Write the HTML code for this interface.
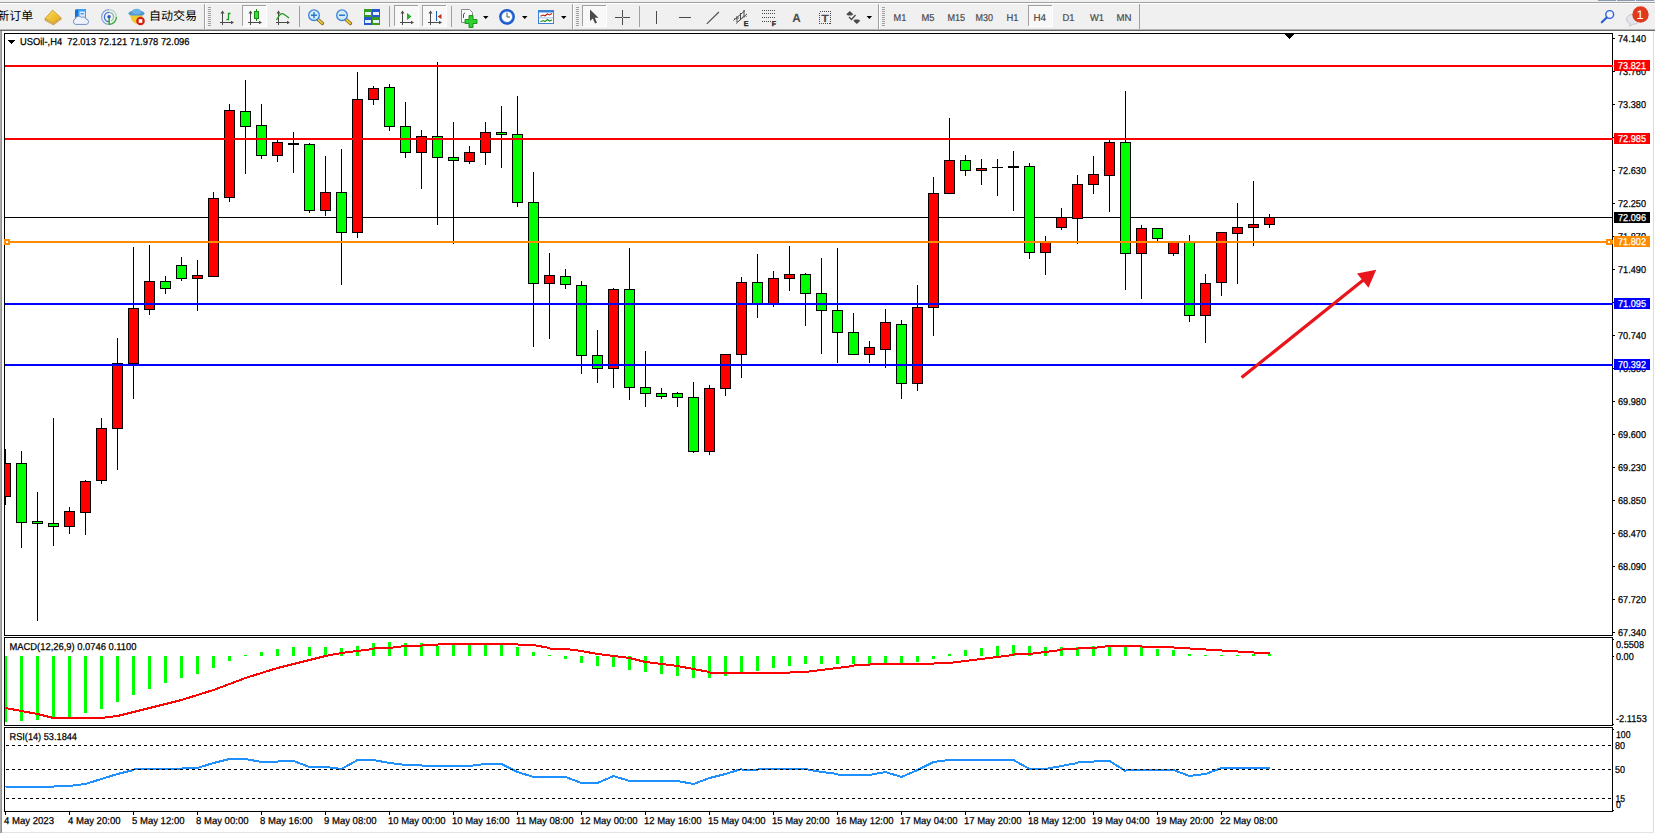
<!DOCTYPE html><html><head><meta charset="utf-8"><title>USOil H4</title>
<style>html,body{margin:0;padding:0;background:#fff}body{width:1655px;height:834px;overflow:hidden}svg{display:block}text{font-family:"Liberation Sans",sans-serif;text-rendering:geometricPrecision}.cjk{font-family:"Liberation Sans","Noto Sans CJK SC",sans-serif}</style></head><body>
<svg width="1655" height="834" viewBox="0 0 1655 834" shape-rendering="crispEdges">
<rect x="0" y="0" width="1655" height="834" fill="#ffffff"/>
<rect x="0" y="0" width="1655" height="31" fill="#f0f0f0"/>
<rect x="0" y="0" width="1655" height="2" fill="#f0f0f0"/>
<rect x="0" y="2" width="1655" height="1" fill="#a0a0a0"/>
<rect x="0" y="3" width="1655" height="1" fill="#ffffff"/>
<rect x="0" y="29" width="1655" height="1" fill="#b4b4b4"/>
<rect x="0" y="30" width="1655" height="1" fill="#696969"/>
<rect x="1598" y="0" width="18" height="1" fill="#8a9bb0"/>
<rect x="1617" y="0" width="18" height="1" fill="#8a9bb0"/>
<rect x="1636" y="0" width="18" height="1" fill="#8a9bb0"/>
<text class="cjk" x="-2.7" y="20" font-size="12" fill="#000">新订单</text>
<text class="cjk" x="149" y="20" font-size="12" fill="#000">自动交易</text>
<rect x="204" y="4" width="1" height="25" fill="#a0a0a0"/><rect x="205" y="4" width="1" height="25" fill="#ffffff"/>
<rect x="208" y="7" width="3" height="1" fill="#a0a0a0"/>
<rect x="208" y="9" width="3" height="1" fill="#a0a0a0"/>
<rect x="208" y="11" width="3" height="1" fill="#a0a0a0"/>
<rect x="208" y="13" width="3" height="1" fill="#a0a0a0"/>
<rect x="208" y="15" width="3" height="1" fill="#a0a0a0"/>
<rect x="208" y="17" width="3" height="1" fill="#a0a0a0"/>
<rect x="208" y="19" width="3" height="1" fill="#a0a0a0"/>
<rect x="208" y="21" width="3" height="1" fill="#a0a0a0"/>
<rect x="208" y="23" width="3" height="1" fill="#a0a0a0"/>
<rect x="208" y="25" width="3" height="1" fill="#a0a0a0"/>
<rect x="299" y="6" width="1" height="21" fill="#a0a0a0"/>
<rect x="389" y="6" width="1" height="21" fill="#a0a0a0"/>
<rect x="451" y="6" width="1" height="21" fill="#a0a0a0"/>
<rect x="572" y="4" width="1" height="25" fill="#a0a0a0"/><rect x="573" y="4" width="1" height="25" fill="#ffffff"/>
<rect x="576" y="7" width="3" height="1" fill="#a0a0a0"/>
<rect x="576" y="9" width="3" height="1" fill="#a0a0a0"/>
<rect x="576" y="11" width="3" height="1" fill="#a0a0a0"/>
<rect x="576" y="13" width="3" height="1" fill="#a0a0a0"/>
<rect x="576" y="15" width="3" height="1" fill="#a0a0a0"/>
<rect x="576" y="17" width="3" height="1" fill="#a0a0a0"/>
<rect x="576" y="19" width="3" height="1" fill="#a0a0a0"/>
<rect x="576" y="21" width="3" height="1" fill="#a0a0a0"/>
<rect x="576" y="23" width="3" height="1" fill="#a0a0a0"/>
<rect x="576" y="25" width="3" height="1" fill="#a0a0a0"/>
<rect x="639" y="6" width="1" height="21" fill="#a0a0a0"/>
<rect x="878" y="4" width="1" height="25" fill="#a0a0a0"/><rect x="879" y="4" width="1" height="25" fill="#ffffff"/>
<rect x="882" y="7" width="3" height="1" fill="#a0a0a0"/>
<rect x="882" y="9" width="3" height="1" fill="#a0a0a0"/>
<rect x="882" y="11" width="3" height="1" fill="#a0a0a0"/>
<rect x="882" y="13" width="3" height="1" fill="#a0a0a0"/>
<rect x="882" y="15" width="3" height="1" fill="#a0a0a0"/>
<rect x="882" y="17" width="3" height="1" fill="#a0a0a0"/>
<rect x="882" y="19" width="3" height="1" fill="#a0a0a0"/>
<rect x="882" y="21" width="3" height="1" fill="#a0a0a0"/>
<rect x="882" y="23" width="3" height="1" fill="#a0a0a0"/>
<rect x="882" y="25" width="3" height="1" fill="#a0a0a0"/>
<rect x="1139" y="4" width="1" height="25" fill="#a0a0a0"/>
<rect x="242" y="5" width="25" height="22" fill="#f8f8f8"/>
<rect x="242" y="5" width="25" height="1" fill="#a0a0a0"/><rect x="242" y="5" width="1" height="22" fill="#a0a0a0"/>
<rect x="242" y="26" width="25" height="1" fill="#ffffff"/><rect x="266" y="5" width="1" height="22" fill="#ffffff"/>
<rect x="394" y="5" width="25" height="22" fill="#f8f8f8"/>
<rect x="394" y="5" width="25" height="1" fill="#a0a0a0"/><rect x="394" y="5" width="1" height="22" fill="#a0a0a0"/>
<rect x="394" y="26" width="25" height="1" fill="#ffffff"/><rect x="418" y="5" width="1" height="22" fill="#ffffff"/>
<rect x="422" y="5" width="25" height="22" fill="#f8f8f8"/>
<rect x="422" y="5" width="25" height="1" fill="#a0a0a0"/><rect x="422" y="5" width="1" height="22" fill="#a0a0a0"/>
<rect x="422" y="26" width="25" height="1" fill="#ffffff"/><rect x="446" y="5" width="1" height="22" fill="#ffffff"/>
<rect x="582" y="5" width="25" height="22" fill="#f8f8f8"/>
<rect x="582" y="5" width="25" height="1" fill="#a0a0a0"/><rect x="582" y="5" width="1" height="22" fill="#a0a0a0"/>
<rect x="582" y="26" width="25" height="1" fill="#ffffff"/><rect x="606" y="5" width="1" height="22" fill="#ffffff"/>
<rect x="1028" y="5" width="25" height="22" fill="#f8f8f8"/>
<rect x="1028" y="5" width="25" height="1" fill="#a0a0a0"/><rect x="1028" y="5" width="1" height="22" fill="#a0a0a0"/>
<rect x="1028" y="26" width="25" height="1" fill="#ffffff"/><rect x="1052" y="5" width="1" height="22" fill="#ffffff"/>
<defs><linearGradient id="gbk" x1="0" y1="0" x2="1" y2="1"><stop offset="0" stop-color="#f9dc55"/><stop offset="1" stop-color="#e6a61c"/></linearGradient></defs>
<g shape-rendering="geometricPrecision"><polygon points="44.8,18.6 53,23.2 61.3,18 61.3,19.6 53.4,25.3 44.8,20.6" fill="#b27a16"/><polyline points="45.3,19.8 53.2,24.2 60.8,19" fill="none" stroke="#f6e6b0" stroke-width="0.8"/><polygon points="44.8,18.6 52.6,10 61.3,18 53,23.2" fill="url(#gbk)" stroke="#c08a18" stroke-width="0.6"/></g>
<g shape-rendering="geometricPrecision"><polygon points="75,9.8 78,9 78,20 75,19.2" fill="#1870d0"/><rect x="78" y="9" width="8" height="11" fill="#3aa0f4"/><rect x="79.5" y="11.5" width="5.5" height="6.5" fill="#d6ecfc"/><rect x="80.5" y="13.3" width="3.5" height="1" fill="#2a80d8"/><path d="M75.5,24.4 a3,3 0 0 1 -0.3,-5.6 a3.6,3.6 0 0 1 6.3,-1.3 a3,3 0 0 1 4.6,1.6 a2.7,2.7 0 0 1 0.4,5.3 z" fill="#eef3fb" stroke="#6f8fc8" stroke-width="1"/></g>
<g shape-rendering="geometricPrecision" fill="none"><path d="M109,9.6 A7.4,7.4 0 0 0 109,24.4" stroke="#86a6dc" stroke-width="1.2"/><path d="M109,9.6 A7.4,7.4 0 0 1 116.4,17" stroke="#b4d6bc" stroke-width="1.2"/><path d="M116.4,17 A7.4,7.4 0 0 1 109,24.4" stroke="#35a535" stroke-width="1.4"/><path d="M109,12.4 A4.6,4.6 0 0 0 109,21.6" stroke="#3f6fd4" stroke-width="1.3"/><path d="M109,12.4 A4.6,4.6 0 0 1 113.6,17" stroke="#7fb0a8" stroke-width="1.3"/><path d="M113.6,17 A4.6,4.6 0 0 1 111,21" stroke="#8fcf8f" stroke-width="1.2"/><line x1="109.2" y1="17" x2="109.2" y2="24.6" stroke="#2ba32b" stroke-width="1.4"/><circle cx="109" cy="16.8" r="1.7" fill="#2a55c8" stroke="none"/></g>
<g shape-rendering="geometricPrecision"><ellipse cx="136.5" cy="13.5" rx="8" ry="3.2" fill="#4f9ad8"/><ellipse cx="136.5" cy="11.5" rx="4.5" ry="2.8" fill="#6fb2e8"/><polygon points="130,15.5 143,15.5 140,21 136,24 132,21" fill="#f0c830"/><circle cx="140.5" cy="21" r="4.3" fill="#d42010"/><rect x="138.7" y="19.2" width="3.6" height="3.6" fill="#fff"/></g>
<g shape-rendering="geometricPrecision" stroke="#4a4a4a" stroke-width="1" fill="#4a4a4a"><line x1="222.5" y1="12" x2="222.5" y2="25"/><line x1="220" y1="22.5" x2="232" y2="22.5"/><polygon points="222.5,10.5 220.5,13.5 224.5,13.5" stroke="none"/><polygon points="234,22.5 231,20.7 231,24.3" stroke="none"/></g>
<path d="M230.5,13.5 h-2 v6 h-2" stroke="#1a9a1a" stroke-width="1.3" fill="none" shape-rendering="geometricPrecision"/>
<g shape-rendering="geometricPrecision" stroke="#4a4a4a" stroke-width="1" fill="#4a4a4a"><line x1="250.5" y1="12" x2="250.5" y2="25"/><line x1="248" y1="22.5" x2="260" y2="22.5"/><polygon points="250.5,10.5 248.5,13.5 252.5,13.5" stroke="none"/><polygon points="262,22.5 259,20.7 259,24.3" stroke="none"/></g>
<rect x="256" y="9" width="1" height="12" fill="#1a8a1a"/><rect x="254" y="11" width="5" height="8" fill="#1a8a1a"/><rect x="255" y="12" width="3" height="6" fill="#35e035"/>
<g shape-rendering="geometricPrecision" stroke="#4a4a4a" stroke-width="1" fill="#4a4a4a"><line x1="278.5" y1="12" x2="278.5" y2="25"/><line x1="276" y1="22.5" x2="288" y2="22.5"/><polygon points="278.5,10.5 276.5,13.5 280.5,13.5" stroke="none"/><polygon points="290,22.5 287,20.7 287,24.3" stroke="none"/></g>
<path d="M276.5,20 q4,-8 7,-6 q3,2 5.5,4" stroke="#1a9a1a" stroke-width="1.2" fill="none" shape-rendering="geometricPrecision"/>
<g shape-rendering="geometricPrecision"><line x1="317.5" y1="19" x2="322.5" y2="23.5" stroke="#8a6a10" stroke-width="3.2" stroke-linecap="round"/><line x1="317.8" y1="19.2" x2="322.3" y2="23.3" stroke="#f0d040" stroke-width="1.6" stroke-linecap="round"/><circle cx="314" cy="15.2" r="5.3" fill="#d4ebfa" stroke="#3a80d8" stroke-width="1.3"/><rect x="311" y="14.5" width="6" height="1.5" fill="#2a78c8"/><rect x="313.25" y="12.2" width="1.5" height="6" fill="#2a78c8"/></g>
<g shape-rendering="geometricPrecision"><line x1="345.5" y1="19" x2="350.5" y2="23.5" stroke="#8a6a10" stroke-width="3.2" stroke-linecap="round"/><line x1="345.8" y1="19.2" x2="350.3" y2="23.3" stroke="#f0d040" stroke-width="1.6" stroke-linecap="round"/><circle cx="342" cy="15.2" r="5.3" fill="#d4ebfa" stroke="#3a80d8" stroke-width="1.3"/><rect x="339" y="14.5" width="6" height="1.5" fill="#2a78c8"/></g>
<rect x="364" y="9" width="8" height="8" fill="#3a9a1c"/><rect x="365" y="12" width="6" height="3" fill="#e8f0ff"/>
<rect x="372" y="9" width="8" height="8" fill="#2458d0"/><rect x="373" y="12" width="6" height="3" fill="#e8f0ff"/>
<rect x="364" y="17" width="8" height="8" fill="#2458d0"/><rect x="365" y="20" width="6" height="3" fill="#e8f0ff"/>
<rect x="372" y="17" width="8" height="8" fill="#3a9a1c"/><rect x="373" y="20" width="6" height="3" fill="#e8f0ff"/>
<g shape-rendering="geometricPrecision" stroke="#4a4a4a" stroke-width="1" fill="#4a4a4a"><line x1="402.5" y1="12" x2="402.5" y2="25"/><line x1="400" y1="22.5" x2="412" y2="22.5"/><polygon points="402.5,10.5 400.5,13.5 404.5,13.5" stroke="none"/><polygon points="414,22.5 411,20.7 411,24.3" stroke="none"/></g>
<polygon shape-rendering="geometricPrecision" points="407,13 407,20 411.5,16.5" fill="#22b022"/>
<g shape-rendering="geometricPrecision" stroke="#4a4a4a" stroke-width="1" fill="#4a4a4a"><line x1="430.5" y1="12" x2="430.5" y2="25"/><line x1="428" y1="22.5" x2="440" y2="22.5"/><polygon points="430.5,10.5 428.5,13.5 432.5,13.5" stroke="none"/><polygon points="442,22.5 439,20.7 439,24.3" stroke="none"/></g>
<rect x="436" y="11" width="1" height="10" fill="#1a60c0"/><polygon shape-rendering="geometricPrecision" points="437.5,16.5 441.5,14 441.5,19" fill="#c83010"/>
<g shape-rendering="geometricPrecision"><path d="M461.5,9.5 h8 l3,3 v10 h-11 z" fill="#fcfcfc" stroke="#8a8a8a" stroke-width="1"/><path d="M465,13 q-1.5,0 -1.5,2 v3" stroke="#555" stroke-width="1" fill="none"/><path d="M469,15.5 h4 v4 h4 v4 h-4 v4 h-4 v-4 h-4 v-4 h4 z" fill="#2fd02f" stroke="#138a13" stroke-width="0.9"/></g>
<polygon shape-rendering="geometricPrecision" points="483,16 488.5,16 485.75,19" fill="#000"/>
<g shape-rendering="geometricPrecision"><circle cx="507" cy="16.8" r="6.6" fill="#fdfdfd" stroke="#1a58cc" stroke-width="2.6"/><circle cx="507" cy="16.8" r="5.6" fill="none" stroke="#5a9cf0" stroke-width="0.7"/><path d="M507,12.5 V17 H510" stroke="#555" stroke-width="1" fill="none"/></g>
<polygon shape-rendering="geometricPrecision" points="522,16 527.5,16 524.75,19" fill="#000"/>
<g shape-rendering="geometricPrecision"><rect x="538.5" y="10.5" width="15" height="13" fill="#fff" stroke="#3a7fd8" stroke-width="1"/><rect x="538" y="10" width="16" height="2.5" fill="#3a7fd8"/><rect x="539" y="17.5" width="14" height="0.8" fill="#7ab0e8"/><polyline points="540.5,16.2 543,15 545,15.8 547.5,14 549.5,15 552,13.6" stroke="#b02010" stroke-width="1.1" fill="none"/><polyline points="540.5,21.8 543,20.5 545,21.5 547.5,19.5 549.5,21 552,20" stroke="#1a901a" stroke-width="1.1" fill="none"/></g>
<polygon shape-rendering="geometricPrecision" points="561,16 566.5,16 563.75,19" fill="#000"/>
<polygon shape-rendering="geometricPrecision" points="590,9.5 590,21 592.8,18.6 595,23.6 597,22.7 594.8,17.8 598.5,17.8" fill="#4a4a4a"/>
<rect x="622" y="10" width="1" height="15" fill="#4a4a4a"/><rect x="615" y="17" width="15" height="1" fill="#4a4a4a"/><rect x="622" y="17" width="1" height="1" fill="#d0d0d0"/>
<rect x="656" y="11" width="1" height="13" fill="#4a4a4a"/>
<rect x="679" y="17" width="12" height="1" fill="#4a4a4a"/>
<line shape-rendering="geometricPrecision" x1="706.8" y1="23.9" x2="718.9" y2="12" stroke="#4a4a4a" stroke-width="1.1"/>
<g shape-rendering="geometricPrecision" stroke="#4a4a4a" stroke-width="1" fill="none"><line x1="733.5" y1="20.5" x2="745" y2="10.5"/><line x1="736" y1="23.5" x2="747" y2="14"/><line x1="734" y1="19" x2="746.5" y2="16.5" stroke-dasharray="1 1"/><line x1="737" y1="16" x2="737" y2="22"/><line x1="740.5" y1="13" x2="740.5" y2="20"/><line x1="744" y1="10" x2="744" y2="17"/></g>
<text x="743.8" y="25.6" font-size="7" font-weight="bold" fill="#222" stroke="#222" stroke-width="0.3">E</text>
<line x1="762" y1="10.5" x2="775" y2="10.5" stroke="#4a4a4a" stroke-width="1" stroke-dasharray="1 1"/>
<line x1="762" y1="13.5" x2="775" y2="13.5" stroke="#4a4a4a" stroke-width="1" stroke-dasharray="1 1"/>
<line x1="762" y1="17.5" x2="775" y2="17.5" stroke="#4a4a4a" stroke-width="1" stroke-dasharray="1 1"/>
<line x1="762" y1="21.5" x2="771" y2="21.5" stroke="#4a4a4a" stroke-width="1" stroke-dasharray="1 1"/>
<text x="771.8" y="25.6" font-size="7" font-weight="bold" fill="#222" stroke="#222" stroke-width="0.3">F</text>
<text x="792.3" y="21.6" font-size="12" font-weight="bold" fill="#4a4a4a" textLength="8.5" lengthAdjust="spacingAndGlyphs">A</text>
<rect x="819.5" y="11.5" width="11" height="12" fill="none" stroke="#4a4a4a" stroke-width="1" stroke-dasharray="1 1"/>
<text x="821.2" y="21.6" font-size="10.5" font-weight="bold" fill="#4a4a4a" textLength="7.6" lengthAdjust="spacingAndGlyphs">T</text>
<g shape-rendering="geometricPrecision" fill="#4a4a4a"><polygon points="849.8,11 853.3,14.2 851.5,15.6 848,15.6 846.3,14.2"/><polygon points="856.8,24 860.3,20.8 858.5,19.4 855,19.4 853.3,20.8"/><polyline points="849,17 851.5,19.5 855.5,15" fill="none" stroke="#4a4a4a" stroke-width="1.4"/></g>
<polygon shape-rendering="geometricPrecision" points="866.6,16 872.1,16 869.35,19" fill="#000"/>
<text x="893.6" y="21" font-size="10" fill="#484848" stroke="#484848" stroke-width="0.2" textLength="12.8" lengthAdjust="spacingAndGlyphs">M1</text>
<text x="921.4" y="21" font-size="10" fill="#484848" stroke="#484848" stroke-width="0.2" textLength="13" lengthAdjust="spacingAndGlyphs">M5</text>
<text x="947.4" y="21" font-size="10" fill="#484848" stroke="#484848" stroke-width="0.2" textLength="17.6" lengthAdjust="spacingAndGlyphs">M15</text>
<text x="975.6" y="21" font-size="10" fill="#484848" stroke="#484848" stroke-width="0.2" textLength="17.4" lengthAdjust="spacingAndGlyphs">M30</text>
<text x="1006.4" y="21" font-size="10" fill="#484848" stroke="#484848" stroke-width="0.2" textLength="12" lengthAdjust="spacingAndGlyphs">H1</text>
<text x="1033.4" y="21" font-size="10" fill="#484848" stroke="#484848" stroke-width="0.2" textLength="12.6" lengthAdjust="spacingAndGlyphs">H4</text>
<text x="1062.4" y="21" font-size="10" fill="#484848" stroke="#484848" stroke-width="0.2" textLength="12" lengthAdjust="spacingAndGlyphs">D1</text>
<text x="1090" y="21" font-size="10" fill="#484848" stroke="#484848" stroke-width="0.2" textLength="14" lengthAdjust="spacingAndGlyphs">W1</text>
<text x="1116.4" y="21" font-size="10" fill="#484848" stroke="#484848" stroke-width="0.2" textLength="15" lengthAdjust="spacingAndGlyphs">MN</text>
<g shape-rendering="geometricPrecision"><circle cx="1609.7" cy="14.5" r="3.9" fill="#f2f4fa" stroke="#2a5fd8" stroke-width="1.4"/><line x1="1606.8" y1="17.5" x2="1601.8" y2="22.3" stroke="#2a5fd8" stroke-width="2.2" stroke-linecap="round"/></g>
<g shape-rendering="geometricPrecision"><path d="M1626.5,19 a6.5,5 0 1 1 6,5.3 l-3,2 l0.6,-2.6 a6,5 0 0 1 -3.6,-4.7 z" fill="#e4e6ec" stroke="#b8bcc6" stroke-width="0.8"/><circle cx="1640.5" cy="14.5" r="8.2" fill="#e03a1e"/></g>
<text x="1636.6" y="19" font-size="12.5" fill="#fff" textLength="7" lengthAdjust="spacingAndGlyphs">1</text>
<rect x="0" y="31" width="2" height="802" fill="#909090"/>
<rect x="0" y="31" width="1" height="802" fill="#ababab"/>
<rect x="1653" y="31" width="1" height="802" fill="#dcdcdc"/>
<rect x="2" y="832" width="1652" height="1" fill="#e4e4e4"/>
<rect x="4" y="33" width="1609" height="1" fill="#000"/>
<rect x="4" y="33" width="1" height="779" fill="#000"/>
<rect x="1612" y="33" width="1" height="779" fill="#000"/>
<rect x="4" y="635" width="1609" height="1" fill="#000"/>
<rect x="4" y="637" width="1609" height="1" fill="#000"/>
<rect x="4" y="725" width="1609" height="1" fill="#000"/>
<rect x="4" y="727" width="1609" height="1" fill="#000"/>
<rect x="4" y="811" width="1609" height="1" fill="#000"/>
<rect x="1612" y="636" width="1" height="1" fill="#fff"/><rect x="1612" y="726" width="1" height="1" fill="#fff"/><rect x="4" y="636" width="1" height="1" fill="#fff"/><rect x="4" y="726" width="1" height="1" fill="#fff"/>
<defs><clipPath id="cm"><rect x="5" y="34" width="1607" height="601"/></clipPath><clipPath id="cd"><rect x="5" y="638" width="1607" height="87"/></clipPath></defs>
<g clip-path="url(#cm)">
<rect x="5" y="217" width="1607" height="1" fill="#000"/>
<rect x="5" y="449" width="1" height="56" fill="#000"/>
<rect x="0" y="463" width="11" height="34" fill="#000"/>
<rect x="1" y="464" width="9" height="32" fill="#ff0000"/>
<rect x="21" y="451" width="1" height="97" fill="#000"/>
<rect x="16" y="463" width="11" height="60" fill="#000"/>
<rect x="17" y="464" width="9" height="58" fill="#00ff00"/>
<rect x="37" y="492" width="1" height="129" fill="#000"/>
<rect x="32" y="521" width="11" height="3" fill="#000"/>
<rect x="33" y="522" width="9" height="1" fill="#00ff00"/>
<rect x="53" y="418" width="1" height="128" fill="#000"/>
<rect x="48" y="523" width="11" height="4" fill="#000"/>
<rect x="49" y="524" width="9" height="2" fill="#00ff00"/>
<rect x="69" y="507" width="1" height="27" fill="#000"/>
<rect x="64" y="511" width="11" height="16" fill="#000"/>
<rect x="65" y="512" width="9" height="14" fill="#ff0000"/>
<rect x="85" y="480" width="1" height="55" fill="#000"/>
<rect x="80" y="481" width="11" height="32" fill="#000"/>
<rect x="81" y="482" width="9" height="30" fill="#ff0000"/>
<rect x="101" y="418" width="1" height="66" fill="#000"/>
<rect x="96" y="428" width="11" height="53" fill="#000"/>
<rect x="97" y="429" width="9" height="51" fill="#ff0000"/>
<rect x="117" y="338" width="1" height="132" fill="#000"/>
<rect x="112" y="363" width="11" height="66" fill="#000"/>
<rect x="113" y="364" width="9" height="64" fill="#ff0000"/>
<rect x="133" y="247" width="1" height="152" fill="#000"/>
<rect x="128" y="308" width="11" height="56" fill="#000"/>
<rect x="129" y="309" width="9" height="54" fill="#ff0000"/>
<rect x="149" y="245" width="1" height="70" fill="#000"/>
<rect x="144" y="281" width="11" height="29" fill="#000"/>
<rect x="145" y="282" width="9" height="27" fill="#ff0000"/>
<rect x="165" y="276" width="1" height="18" fill="#000"/>
<rect x="160" y="281" width="11" height="8" fill="#000"/>
<rect x="161" y="282" width="9" height="6" fill="#00ff00"/>
<rect x="181" y="257" width="1" height="24" fill="#000"/>
<rect x="176" y="265" width="11" height="14" fill="#000"/>
<rect x="177" y="266" width="9" height="12" fill="#00ff00"/>
<rect x="197" y="260" width="1" height="51" fill="#000"/>
<rect x="192" y="275" width="11" height="4" fill="#000"/>
<rect x="193" y="276" width="9" height="2" fill="#ff0000"/>
<rect x="213" y="192" width="1" height="85" fill="#000"/>
<rect x="208" y="198" width="11" height="79" fill="#000"/>
<rect x="209" y="199" width="9" height="77" fill="#ff0000"/>
<rect x="229" y="104" width="1" height="98" fill="#000"/>
<rect x="224" y="110" width="11" height="88" fill="#000"/>
<rect x="225" y="111" width="9" height="86" fill="#ff0000"/>
<rect x="245" y="80" width="1" height="94" fill="#000"/>
<rect x="240" y="111" width="11" height="16" fill="#000"/>
<rect x="241" y="112" width="9" height="14" fill="#00ff00"/>
<rect x="261" y="104" width="1" height="55" fill="#000"/>
<rect x="256" y="125" width="11" height="31" fill="#000"/>
<rect x="257" y="126" width="9" height="29" fill="#00ff00"/>
<rect x="277" y="140" width="1" height="22" fill="#000"/>
<rect x="272" y="142" width="11" height="14" fill="#000"/>
<rect x="273" y="143" width="9" height="12" fill="#ff0000"/>
<rect x="293" y="132" width="1" height="41" fill="#000"/>
<rect x="288" y="143" width="11" height="2" fill="#000"/>
<rect x="309" y="143" width="1" height="70" fill="#000"/>
<rect x="304" y="144" width="11" height="67" fill="#000"/>
<rect x="305" y="145" width="9" height="65" fill="#00ff00"/>
<rect x="325" y="156" width="1" height="60" fill="#000"/>
<rect x="320" y="192" width="11" height="19" fill="#000"/>
<rect x="321" y="193" width="9" height="17" fill="#ff0000"/>
<rect x="341" y="149" width="1" height="136" fill="#000"/>
<rect x="336" y="192" width="11" height="41" fill="#000"/>
<rect x="337" y="193" width="9" height="39" fill="#00ff00"/>
<rect x="357" y="72" width="1" height="166" fill="#000"/>
<rect x="352" y="99" width="11" height="134" fill="#000"/>
<rect x="353" y="100" width="9" height="132" fill="#ff0000"/>
<rect x="373" y="86" width="1" height="19" fill="#000"/>
<rect x="368" y="88" width="11" height="12" fill="#000"/>
<rect x="369" y="89" width="9" height="10" fill="#ff0000"/>
<rect x="389" y="84" width="1" height="47" fill="#000"/>
<rect x="384" y="87" width="11" height="40" fill="#000"/>
<rect x="385" y="88" width="9" height="38" fill="#00ff00"/>
<rect x="405" y="102" width="1" height="56" fill="#000"/>
<rect x="400" y="126" width="11" height="27" fill="#000"/>
<rect x="401" y="127" width="9" height="25" fill="#00ff00"/>
<rect x="421" y="130" width="1" height="59" fill="#000"/>
<rect x="416" y="136" width="11" height="17" fill="#000"/>
<rect x="417" y="137" width="9" height="15" fill="#ff0000"/>
<rect x="437" y="62" width="1" height="163" fill="#000"/>
<rect x="432" y="136" width="11" height="22" fill="#000"/>
<rect x="433" y="137" width="9" height="20" fill="#00ff00"/>
<rect x="453" y="122" width="1" height="122" fill="#000"/>
<rect x="448" y="157" width="11" height="4" fill="#000"/>
<rect x="449" y="158" width="9" height="2" fill="#00ff00"/>
<rect x="469" y="146" width="1" height="18" fill="#000"/>
<rect x="464" y="152" width="11" height="10" fill="#000"/>
<rect x="465" y="153" width="9" height="8" fill="#ff0000"/>
<rect x="485" y="122" width="1" height="43" fill="#000"/>
<rect x="480" y="132" width="11" height="21" fill="#000"/>
<rect x="481" y="133" width="9" height="19" fill="#ff0000"/>
<rect x="501" y="106" width="1" height="62" fill="#000"/>
<rect x="496" y="132" width="11" height="3" fill="#000"/>
<rect x="497" y="133" width="9" height="1" fill="#00ff00"/>
<rect x="517" y="96" width="1" height="111" fill="#000"/>
<rect x="512" y="134" width="11" height="69" fill="#000"/>
<rect x="513" y="135" width="9" height="67" fill="#00ff00"/>
<rect x="533" y="172" width="1" height="175" fill="#000"/>
<rect x="528" y="202" width="11" height="82" fill="#000"/>
<rect x="529" y="203" width="9" height="80" fill="#00ff00"/>
<rect x="549" y="253" width="1" height="86" fill="#000"/>
<rect x="544" y="275" width="11" height="9" fill="#000"/>
<rect x="545" y="276" width="9" height="7" fill="#ff0000"/>
<rect x="565" y="269" width="1" height="20" fill="#000"/>
<rect x="560" y="276" width="11" height="9" fill="#000"/>
<rect x="561" y="277" width="9" height="7" fill="#00ff00"/>
<rect x="581" y="281" width="1" height="93" fill="#000"/>
<rect x="576" y="285" width="11" height="71" fill="#000"/>
<rect x="577" y="286" width="9" height="69" fill="#00ff00"/>
<rect x="597" y="330" width="1" height="53" fill="#000"/>
<rect x="592" y="355" width="11" height="14" fill="#000"/>
<rect x="593" y="356" width="9" height="12" fill="#00ff00"/>
<rect x="613" y="288" width="1" height="100" fill="#000"/>
<rect x="608" y="289" width="11" height="80" fill="#000"/>
<rect x="609" y="290" width="9" height="78" fill="#ff0000"/>
<rect x="629" y="248" width="1" height="152" fill="#000"/>
<rect x="624" y="289" width="11" height="99" fill="#000"/>
<rect x="625" y="290" width="9" height="97" fill="#00ff00"/>
<rect x="645" y="351" width="1" height="56" fill="#000"/>
<rect x="640" y="387" width="11" height="7" fill="#000"/>
<rect x="641" y="388" width="9" height="5" fill="#00ff00"/>
<rect x="661" y="388" width="1" height="11" fill="#000"/>
<rect x="656" y="393" width="11" height="4" fill="#000"/>
<rect x="657" y="394" width="9" height="2" fill="#00ff00"/>
<rect x="677" y="392" width="1" height="15" fill="#000"/>
<rect x="672" y="393" width="11" height="5" fill="#000"/>
<rect x="673" y="394" width="9" height="3" fill="#00ff00"/>
<rect x="693" y="382" width="1" height="71" fill="#000"/>
<rect x="688" y="397" width="11" height="55" fill="#000"/>
<rect x="689" y="398" width="9" height="53" fill="#00ff00"/>
<rect x="709" y="385" width="1" height="70" fill="#000"/>
<rect x="704" y="388" width="11" height="64" fill="#000"/>
<rect x="705" y="389" width="9" height="62" fill="#ff0000"/>
<rect x="725" y="354" width="1" height="42" fill="#000"/>
<rect x="720" y="354" width="11" height="35" fill="#000"/>
<rect x="721" y="355" width="9" height="33" fill="#ff0000"/>
<rect x="741" y="277" width="1" height="101" fill="#000"/>
<rect x="736" y="282" width="11" height="73" fill="#000"/>
<rect x="737" y="283" width="9" height="71" fill="#ff0000"/>
<rect x="757" y="254" width="1" height="64" fill="#000"/>
<rect x="752" y="282" width="11" height="22" fill="#000"/>
<rect x="753" y="283" width="9" height="20" fill="#00ff00"/>
<rect x="773" y="271" width="1" height="36" fill="#000"/>
<rect x="768" y="278" width="11" height="26" fill="#000"/>
<rect x="769" y="279" width="9" height="24" fill="#ff0000"/>
<rect x="789" y="246" width="1" height="45" fill="#000"/>
<rect x="784" y="274" width="11" height="5" fill="#000"/>
<rect x="785" y="275" width="9" height="3" fill="#ff0000"/>
<rect x="805" y="273" width="1" height="53" fill="#000"/>
<rect x="800" y="274" width="11" height="20" fill="#000"/>
<rect x="801" y="275" width="9" height="18" fill="#00ff00"/>
<rect x="821" y="258" width="1" height="96" fill="#000"/>
<rect x="816" y="293" width="11" height="18" fill="#000"/>
<rect x="817" y="294" width="9" height="16" fill="#00ff00"/>
<rect x="837" y="248" width="1" height="115" fill="#000"/>
<rect x="832" y="310" width="11" height="23" fill="#000"/>
<rect x="833" y="311" width="9" height="21" fill="#00ff00"/>
<rect x="853" y="313" width="1" height="42" fill="#000"/>
<rect x="848" y="332" width="11" height="23" fill="#000"/>
<rect x="849" y="333" width="9" height="21" fill="#00ff00"/>
<rect x="869" y="341" width="1" height="22" fill="#000"/>
<rect x="864" y="347" width="11" height="8" fill="#000"/>
<rect x="865" y="348" width="9" height="6" fill="#ff0000"/>
<rect x="885" y="309" width="1" height="59" fill="#000"/>
<rect x="880" y="322" width="11" height="28" fill="#000"/>
<rect x="881" y="323" width="9" height="26" fill="#ff0000"/>
<rect x="901" y="320" width="1" height="79" fill="#000"/>
<rect x="896" y="324" width="11" height="60" fill="#000"/>
<rect x="897" y="325" width="9" height="58" fill="#00ff00"/>
<rect x="917" y="285" width="1" height="106" fill="#000"/>
<rect x="912" y="307" width="11" height="77" fill="#000"/>
<rect x="913" y="308" width="9" height="75" fill="#ff0000"/>
<rect x="933" y="177" width="1" height="159" fill="#000"/>
<rect x="928" y="193" width="11" height="115" fill="#000"/>
<rect x="929" y="194" width="9" height="113" fill="#ff0000"/>
<rect x="949" y="118" width="1" height="76" fill="#000"/>
<rect x="944" y="160" width="11" height="34" fill="#000"/>
<rect x="945" y="161" width="9" height="32" fill="#ff0000"/>
<rect x="965" y="155" width="1" height="21" fill="#000"/>
<rect x="960" y="160" width="11" height="11" fill="#000"/>
<rect x="961" y="161" width="9" height="9" fill="#00ff00"/>
<rect x="981" y="159" width="1" height="26" fill="#000"/>
<rect x="976" y="168" width="11" height="3" fill="#000"/>
<rect x="977" y="169" width="9" height="1" fill="#ff0000"/>
<rect x="997" y="159" width="1" height="37" fill="#000"/>
<rect x="992" y="167" width="11" height="1" fill="#000"/>
<rect x="1013" y="151" width="1" height="60" fill="#000"/>
<rect x="1008" y="166" width="11" height="2" fill="#000"/>
<rect x="1029" y="163" width="1" height="96" fill="#000"/>
<rect x="1024" y="166" width="11" height="87" fill="#000"/>
<rect x="1025" y="167" width="9" height="85" fill="#00ff00"/>
<rect x="1045" y="236" width="1" height="39" fill="#000"/>
<rect x="1040" y="242" width="11" height="11" fill="#000"/>
<rect x="1041" y="243" width="9" height="9" fill="#ff0000"/>
<rect x="1061" y="208" width="1" height="22" fill="#000"/>
<rect x="1056" y="217" width="11" height="11" fill="#000"/>
<rect x="1057" y="218" width="9" height="9" fill="#ff0000"/>
<rect x="1077" y="175" width="1" height="69" fill="#000"/>
<rect x="1072" y="184" width="11" height="35" fill="#000"/>
<rect x="1073" y="185" width="9" height="33" fill="#ff0000"/>
<rect x="1093" y="156" width="1" height="38" fill="#000"/>
<rect x="1088" y="174" width="11" height="11" fill="#000"/>
<rect x="1089" y="175" width="9" height="9" fill="#ff0000"/>
<rect x="1109" y="140" width="1" height="72" fill="#000"/>
<rect x="1104" y="142" width="11" height="34" fill="#000"/>
<rect x="1105" y="143" width="9" height="32" fill="#ff0000"/>
<rect x="1125" y="91" width="1" height="199" fill="#000"/>
<rect x="1120" y="142" width="11" height="112" fill="#000"/>
<rect x="1121" y="143" width="9" height="110" fill="#00ff00"/>
<rect x="1141" y="225" width="1" height="74" fill="#000"/>
<rect x="1136" y="228" width="11" height="26" fill="#000"/>
<rect x="1137" y="229" width="9" height="24" fill="#ff0000"/>
<rect x="1157" y="228" width="1" height="13" fill="#000"/>
<rect x="1152" y="228" width="11" height="11" fill="#000"/>
<rect x="1153" y="229" width="9" height="9" fill="#00ff00"/>
<rect x="1173" y="242" width="1" height="14" fill="#000"/>
<rect x="1168" y="242" width="11" height="12" fill="#000"/>
<rect x="1169" y="243" width="9" height="10" fill="#ff0000"/>
<rect x="1189" y="235" width="1" height="87" fill="#000"/>
<rect x="1184" y="242" width="11" height="74" fill="#000"/>
<rect x="1185" y="243" width="9" height="72" fill="#00ff00"/>
<rect x="1205" y="274" width="1" height="69" fill="#000"/>
<rect x="1200" y="283" width="11" height="33" fill="#000"/>
<rect x="1201" y="284" width="9" height="31" fill="#ff0000"/>
<rect x="1221" y="232" width="1" height="64" fill="#000"/>
<rect x="1216" y="232" width="11" height="51" fill="#000"/>
<rect x="1217" y="233" width="9" height="49" fill="#ff0000"/>
<rect x="1237" y="203" width="1" height="81" fill="#000"/>
<rect x="1232" y="227" width="11" height="7" fill="#000"/>
<rect x="1233" y="228" width="9" height="5" fill="#ff0000"/>
<rect x="1253" y="181" width="1" height="65" fill="#000"/>
<rect x="1248" y="224" width="11" height="4" fill="#000"/>
<rect x="1249" y="225" width="9" height="2" fill="#ff0000"/>
<rect x="1269" y="214" width="1" height="14" fill="#000"/>
<rect x="1264" y="217" width="11" height="8" fill="#000"/>
<rect x="1265" y="218" width="9" height="6" fill="#ff0000"/>
</g>
<rect x="5" y="65" width="1608" height="2" fill="#ff0000"/>
<rect x="5" y="138" width="1608" height="2" fill="#ff0000"/>
<rect x="5" y="241" width="1608" height="2" fill="#ff8c00"/>
<rect x="5" y="303" width="1608" height="2" fill="#0000ff"/>
<rect x="5" y="364" width="1608" height="2" fill="#0000ff"/>
<rect x="4" y="239" width="6" height="6" fill="#ff8c00"/><rect x="6" y="241" width="2" height="2" fill="#fff"/>
<rect x="1606" y="239" width="6" height="6" fill="#ff8c00"/><rect x="1608" y="241" width="2" height="2" fill="#fff"/><rect x="1612" y="240" width="1" height="4" fill="#ff8c00"/>
<g shape-rendering="geometricPrecision"><line x1="1241.6" y1="377.6" x2="1364" y2="279.5" stroke="#e8151d" stroke-width="3.2"/><polygon points="1376.2,269.8 1357,273.6 1368.5,287.8" fill="#e8151d"/></g>
<rect x="1285" y="34" width="9" height="1" fill="#000"/>
<rect x="1286" y="35" width="7" height="1" fill="#000"/>
<rect x="1287" y="36" width="5" height="1" fill="#000"/>
<rect x="1288" y="37" width="3" height="1" fill="#000"/>
<rect x="1289" y="38" width="1" height="1" fill="#000"/>
<rect x="8" y="40" width="7" height="1" fill="#000"/>
<rect x="9" y="41" width="5" height="1" fill="#000"/>
<rect x="10" y="42" width="3" height="1" fill="#000"/>
<rect x="11" y="43" width="1" height="1" fill="#000"/>
<text x="20" y="45" font-size="10" fill="#000" textLength="169.5" lengthAdjust="spacingAndGlyphs" stroke="#000" stroke-width="0.25" >USOil-,H4 &#160;72.013 72.121 71.978 72.096</text>
<rect x="1613" y="38" width="2" height="1" fill="#000"/>
<text x="1618" y="42" font-size="10" fill="#000" textLength="28" lengthAdjust="spacingAndGlyphs" stroke="#000" stroke-width="0.25" >74.140</text>
<rect x="1613" y="71" width="2" height="1" fill="#000"/>
<text x="1618" y="75" font-size="10" fill="#000" textLength="28" lengthAdjust="spacingAndGlyphs" stroke="#000" stroke-width="0.25" >73.760</text>
<rect x="1613" y="104" width="2" height="1" fill="#000"/>
<text x="1618" y="108" font-size="10" fill="#000" textLength="28" lengthAdjust="spacingAndGlyphs" stroke="#000" stroke-width="0.25" >73.380</text>
<rect x="1613" y="137" width="2" height="1" fill="#000"/>
<text x="1618" y="141" font-size="10" fill="#000" textLength="28" lengthAdjust="spacingAndGlyphs" stroke="#000" stroke-width="0.25" >73.000</text>
<rect x="1613" y="170" width="2" height="1" fill="#000"/>
<text x="1618" y="174" font-size="10" fill="#000" textLength="28" lengthAdjust="spacingAndGlyphs" stroke="#000" stroke-width="0.25" >72.630</text>
<rect x="1613" y="203" width="2" height="1" fill="#000"/>
<text x="1618" y="207" font-size="10" fill="#000" textLength="28" lengthAdjust="spacingAndGlyphs" stroke="#000" stroke-width="0.25" >72.250</text>
<rect x="1613" y="236" width="2" height="1" fill="#000"/>
<text x="1618" y="240" font-size="10" fill="#000" textLength="28" lengthAdjust="spacingAndGlyphs" stroke="#000" stroke-width="0.25" >71.870</text>
<rect x="1613" y="269" width="2" height="1" fill="#000"/>
<text x="1618" y="273" font-size="10" fill="#000" textLength="28" lengthAdjust="spacingAndGlyphs" stroke="#000" stroke-width="0.25" >71.490</text>
<rect x="1613" y="302" width="2" height="1" fill="#000"/>
<text x="1618" y="306" font-size="10" fill="#000" textLength="28" lengthAdjust="spacingAndGlyphs" stroke="#000" stroke-width="0.25" >71.110</text>
<rect x="1613" y="335" width="2" height="1" fill="#000"/>
<text x="1618" y="339" font-size="10" fill="#000" textLength="28" lengthAdjust="spacingAndGlyphs" stroke="#000" stroke-width="0.25" >70.740</text>
<rect x="1613" y="368" width="2" height="1" fill="#000"/>
<text x="1618" y="372" font-size="10" fill="#000" textLength="28" lengthAdjust="spacingAndGlyphs" stroke="#000" stroke-width="0.25" >70.360</text>
<rect x="1613" y="401" width="2" height="1" fill="#000"/>
<text x="1618" y="405" font-size="10" fill="#000" textLength="28" lengthAdjust="spacingAndGlyphs" stroke="#000" stroke-width="0.25" >69.980</text>
<rect x="1613" y="434" width="2" height="1" fill="#000"/>
<text x="1618" y="438" font-size="10" fill="#000" textLength="28" lengthAdjust="spacingAndGlyphs" stroke="#000" stroke-width="0.25" >69.600</text>
<rect x="1613" y="467" width="2" height="1" fill="#000"/>
<text x="1618" y="471" font-size="10" fill="#000" textLength="28" lengthAdjust="spacingAndGlyphs" stroke="#000" stroke-width="0.25" >69.230</text>
<rect x="1613" y="500" width="2" height="1" fill="#000"/>
<text x="1618" y="504" font-size="10" fill="#000" textLength="28" lengthAdjust="spacingAndGlyphs" stroke="#000" stroke-width="0.25" >68.850</text>
<rect x="1613" y="533" width="2" height="1" fill="#000"/>
<text x="1618" y="537" font-size="10" fill="#000" textLength="28" lengthAdjust="spacingAndGlyphs" stroke="#000" stroke-width="0.25" >68.470</text>
<rect x="1613" y="566" width="2" height="1" fill="#000"/>
<text x="1618" y="570" font-size="10" fill="#000" textLength="28" lengthAdjust="spacingAndGlyphs" stroke="#000" stroke-width="0.25" >68.090</text>
<rect x="1613" y="599" width="2" height="1" fill="#000"/>
<text x="1618" y="603" font-size="10" fill="#000" textLength="28" lengthAdjust="spacingAndGlyphs" stroke="#000" stroke-width="0.25" >67.720</text>
<rect x="1613" y="632" width="2" height="1" fill="#000"/>
<text x="1618" y="636" font-size="10" fill="#000" textLength="28" lengthAdjust="spacingAndGlyphs" stroke="#000" stroke-width="0.25" >67.340</text>
<rect x="1614" y="60" width="36" height="11" fill="#ff0000"/>
<text x="1618" y="69" font-size="10" fill="#fff" textLength="28" lengthAdjust="spacingAndGlyphs" stroke="#fff" stroke-width="0.25" >73.821</text>
<rect x="1614" y="133" width="36" height="11" fill="#ff0000"/>
<text x="1618" y="142" font-size="10" fill="#fff" textLength="28" lengthAdjust="spacingAndGlyphs" stroke="#fff" stroke-width="0.25" >72.985</text>
<rect x="1614" y="212" width="36" height="11" fill="#000000"/>
<text x="1618" y="221" font-size="10" fill="#fff" textLength="28" lengthAdjust="spacingAndGlyphs" stroke="#fff" stroke-width="0.25" >72.096</text>
<rect x="1614" y="236" width="36" height="11" fill="#ff8c00"/>
<text x="1618" y="245" font-size="10" fill="#fff" textLength="28" lengthAdjust="spacingAndGlyphs" stroke="#fff" stroke-width="0.25" >71.802</text>
<rect x="1614" y="298" width="36" height="11" fill="#0000ff"/>
<text x="1618" y="307" font-size="10" fill="#fff" textLength="28" lengthAdjust="spacingAndGlyphs" stroke="#fff" stroke-width="0.25" >71.095</text>
<rect x="1614" y="359" width="36" height="11" fill="#0000ff"/>
<text x="1618" y="368" font-size="10" fill="#fff" textLength="28" lengthAdjust="spacingAndGlyphs" stroke="#fff" stroke-width="0.25" >70.392</text>
<text x="9.5" y="650" font-size="10" fill="#000" textLength="127" lengthAdjust="spacingAndGlyphs" stroke="#000" stroke-width="0.25" >MACD(12,26,9) 0.0746 0.1100</text>
<g clip-path="url(#cd)">
<rect x="4" y="656" width="3" height="66" fill="#00ff00"/>
<rect x="20" y="656" width="3" height="65" fill="#00ff00"/>
<rect x="36" y="656" width="3" height="64" fill="#00ff00"/>
<rect x="52" y="656" width="3" height="62" fill="#00ff00"/>
<rect x="68" y="656" width="3" height="61" fill="#00ff00"/>
<rect x="84" y="656" width="3" height="57" fill="#00ff00"/>
<rect x="100" y="656" width="3" height="53" fill="#00ff00"/>
<rect x="116" y="656" width="3" height="46" fill="#00ff00"/>
<rect x="132" y="656" width="3" height="39" fill="#00ff00"/>
<rect x="148" y="656" width="3" height="33" fill="#00ff00"/>
<rect x="164" y="656" width="3" height="27" fill="#00ff00"/>
<rect x="180" y="656" width="3" height="22" fill="#00ff00"/>
<rect x="196" y="656" width="3" height="18" fill="#00ff00"/>
<rect x="212" y="656" width="3" height="12" fill="#00ff00"/>
<rect x="228" y="656" width="3" height="5" fill="#00ff00"/>
<rect x="244" y="655" width="3" height="1" fill="#00ff00"/>
<rect x="260" y="652" width="3" height="4" fill="#00ff00"/>
<rect x="276" y="649" width="3" height="7" fill="#00ff00"/>
<rect x="292" y="647" width="3" height="9" fill="#00ff00"/>
<rect x="308" y="647" width="3" height="9" fill="#00ff00"/>
<rect x="324" y="647" width="3" height="9" fill="#00ff00"/>
<rect x="340" y="648" width="3" height="8" fill="#00ff00"/>
<rect x="356" y="646" width="3" height="10" fill="#00ff00"/>
<rect x="372" y="643" width="3" height="13" fill="#00ff00"/>
<rect x="388" y="642" width="3" height="14" fill="#00ff00"/>
<rect x="404" y="643" width="3" height="13" fill="#00ff00"/>
<rect x="420" y="643" width="3" height="13" fill="#00ff00"/>
<rect x="436" y="646" width="3" height="10" fill="#00ff00"/>
<rect x="452" y="644" width="3" height="12" fill="#00ff00"/>
<rect x="468" y="644" width="3" height="12" fill="#00ff00"/>
<rect x="484" y="644" width="3" height="12" fill="#00ff00"/>
<rect x="500" y="644" width="3" height="12" fill="#00ff00"/>
<rect x="516" y="647" width="3" height="9" fill="#00ff00"/>
<rect x="532" y="652" width="3" height="4" fill="#00ff00"/>
<rect x="548" y="655" width="3" height="1" fill="#00ff00"/>
<rect x="564" y="656" width="3" height="3" fill="#00ff00"/>
<rect x="580" y="656" width="3" height="7" fill="#00ff00"/>
<rect x="596" y="656" width="3" height="10" fill="#00ff00"/>
<rect x="612" y="656" width="3" height="11" fill="#00ff00"/>
<rect x="628" y="656" width="3" height="14" fill="#00ff00"/>
<rect x="644" y="656" width="3" height="16" fill="#00ff00"/>
<rect x="660" y="656" width="3" height="18" fill="#00ff00"/>
<rect x="676" y="656" width="3" height="20" fill="#00ff00"/>
<rect x="692" y="656" width="3" height="22" fill="#00ff00"/>
<rect x="708" y="656" width="3" height="22" fill="#00ff00"/>
<rect x="724" y="656" width="3" height="20" fill="#00ff00"/>
<rect x="740" y="656" width="3" height="17" fill="#00ff00"/>
<rect x="756" y="656" width="3" height="15" fill="#00ff00"/>
<rect x="772" y="656" width="3" height="12" fill="#00ff00"/>
<rect x="788" y="656" width="3" height="10" fill="#00ff00"/>
<rect x="804" y="656" width="3" height="8" fill="#00ff00"/>
<rect x="820" y="656" width="3" height="8" fill="#00ff00"/>
<rect x="836" y="656" width="3" height="8" fill="#00ff00"/>
<rect x="852" y="656" width="3" height="8" fill="#00ff00"/>
<rect x="868" y="656" width="3" height="9" fill="#00ff00"/>
<rect x="884" y="656" width="3" height="8" fill="#00ff00"/>
<rect x="900" y="656" width="3" height="7" fill="#00ff00"/>
<rect x="916" y="656" width="3" height="6" fill="#00ff00"/>
<rect x="932" y="656" width="3" height="3" fill="#00ff00"/>
<rect x="948" y="654" width="3" height="2" fill="#00ff00"/>
<rect x="964" y="650" width="3" height="6" fill="#00ff00"/>
<rect x="980" y="648" width="3" height="8" fill="#00ff00"/>
<rect x="996" y="646" width="3" height="10" fill="#00ff00"/>
<rect x="1012" y="645" width="3" height="11" fill="#00ff00"/>
<rect x="1028" y="646" width="3" height="10" fill="#00ff00"/>
<rect x="1044" y="647" width="3" height="9" fill="#00ff00"/>
<rect x="1060" y="647" width="3" height="9" fill="#00ff00"/>
<rect x="1076" y="647" width="3" height="9" fill="#00ff00"/>
<rect x="1092" y="646" width="3" height="10" fill="#00ff00"/>
<rect x="1108" y="645" width="3" height="11" fill="#00ff00"/>
<rect x="1124" y="646" width="3" height="10" fill="#00ff00"/>
<rect x="1140" y="647" width="3" height="9" fill="#00ff00"/>
<rect x="1156" y="649" width="3" height="7" fill="#00ff00"/>
<rect x="1172" y="650" width="3" height="6" fill="#00ff00"/>
<rect x="1188" y="654" width="3" height="2" fill="#00ff00"/>
<rect x="1204" y="655" width="3" height="1" fill="#00ff00"/>
<rect x="1220" y="655" width="3" height="1" fill="#00ff00"/>
<rect x="1236" y="655" width="3" height="1" fill="#00ff00"/>
<rect x="1252" y="654" width="3" height="2" fill="#00ff00"/>
<rect x="1268" y="654" width="3" height="2" fill="#00ff00"/>
<polyline points="5.5,708 21.5,711 37.5,714 53.5,718 69.5,718 85.5,718 101.5,718 117.5,716 133.5,712 149.5,708 165.5,704 181.5,700 197.5,695 213.5,690 229.5,684 245.5,678 261.5,673 277.5,668 293.5,664 309.5,660 325.5,656 341.5,653 357.5,651 373.5,649 374.5,648 389.5,648 405.5,646 421.5,646 422.5,645 437.5,645 438.5,644 453.5,644 469.5,644 485.5,644 501.5,644 517.5,644 518.5,645 533.5,645 549.5,648 550.5,649 565.5,649 581.5,651 597.5,654 613.5,656 629.5,658 645.5,662 661.5,664 677.5,666 693.5,669 709.5,672 710.5,673 725.5,673 741.5,673 757.5,673 773.5,673 789.5,673 790.5,672 805.5,672 821.5,670 837.5,668 853.5,666 854.5,665 869.5,665 870.5,664 885.5,664 901.5,664 917.5,664 933.5,664 934.5,663 949.5,663 965.5,661 981.5,659 997.5,657 1013.5,655 1014.5,654 1029.5,654 1045.5,652 1061.5,650 1062.5,649 1077.5,649 1078.5,648 1093.5,648 1109.5,646 1125.5,646 1141.5,646 1142.5,647 1157.5,647 1173.5,647 1174.5,648 1189.5,648 1190.5,649 1205.5,649 1206.5,650 1221.5,650 1222.5,651 1237.5,651 1238.5,652 1253.5,652 1254.5,653 1269.5,653" fill="none" stroke="#ff0000" stroke-width="2" stroke-linejoin="round"/>
</g>
<text x="1616" y="648" font-size="10" fill="#000" textLength="28" lengthAdjust="spacingAndGlyphs" stroke="#000" stroke-width="0.25" >0.5508</text>
<rect x="1613" y="656" width="1" height="1" fill="#000"/>
<rect x="1613" y="639" width="1" height="1" fill="#000"/>
<rect x="1613" y="724" width="1" height="1" fill="#000"/>
<text x="1616" y="660" font-size="10" fill="#000" textLength="17.7" lengthAdjust="spacingAndGlyphs" stroke="#000" stroke-width="0.25" >0.00</text>
<text x="1616" y="722" font-size="10" fill="#000" textLength="30.8" lengthAdjust="spacingAndGlyphs" stroke="#000" stroke-width="0.25" >-2.1153</text>
<text x="9.5" y="740" font-size="10" fill="#000" textLength="67.5" lengthAdjust="spacingAndGlyphs" stroke="#000" stroke-width="0.25" >RSI(14) 53.1844</text>
<polyline points="5.5,786 6.5,787 21.5,787 37.5,787 53.5,787 54.5,786 69.5,786 85.5,784 101.5,779 117.5,774 133.5,770 134.5,769 149.5,769 165.5,769 181.5,769 182.5,768 197.5,768 213.5,763 229.5,759 245.5,759 261.5,762 277.5,762 278.5,761 293.5,761 309.5,767 325.5,767 341.5,769 357.5,760 373.5,760 389.5,763 405.5,765 421.5,765 422.5,766 437.5,766 453.5,766 469.5,766 485.5,764 501.5,764 517.5,772 533.5,777 549.5,777 565.5,777 581.5,783 597.5,783 613.5,776 629.5,781 645.5,781 661.5,781 677.5,781 693.5,784 709.5,778 725.5,774 741.5,769 742.5,770 757.5,770 758.5,769 773.5,769 789.5,769 805.5,769 821.5,772 837.5,774 838.5,775 853.5,775 869.5,775 885.5,772 901.5,777 917.5,770 933.5,762 949.5,760 965.5,760 981.5,760 997.5,760 1013.5,760 1029.5,769 1045.5,769 1061.5,766 1077.5,763 1078.5,762 1093.5,762 1094.5,761 1109.5,761 1125.5,771 1126.5,770 1141.5,770 1157.5,770 1173.5,770 1189.5,776 1205.5,774 1221.5,768 1237.5,768 1253.5,768 1269.5,768" fill="none" stroke="#1e90ff" stroke-width="2" stroke-linejoin="round"/>
<line x1="6" y1="745.5" x2="1612" y2="745.5" stroke="#000" stroke-width="1" stroke-dasharray="3 3"/>
<line x1="6" y1="769.5" x2="1612" y2="769.5" stroke="#000" stroke-width="1" stroke-dasharray="3 3"/>
<line x1="6" y1="798.5" x2="1612" y2="798.5" stroke="#000" stroke-width="1" stroke-dasharray="3 3"/>
<text x="1616" y="738" font-size="10" fill="#000" textLength="14.5" lengthAdjust="spacingAndGlyphs" stroke="#000" stroke-width="0.25" >100</text>
<text x="1615" y="749" font-size="10" fill="#000" textLength="10" lengthAdjust="spacingAndGlyphs" stroke="#000" stroke-width="0.25" >80</text>
<text x="1615" y="773" font-size="10" fill="#000" textLength="10" lengthAdjust="spacingAndGlyphs" stroke="#000" stroke-width="0.25" >50</text>
<text x="1615.5" y="802" font-size="10" fill="#000" textLength="9.5" lengthAdjust="spacingAndGlyphs" stroke="#000" stroke-width="0.25" >15</text>
<text x="1616" y="808" font-size="10" fill="#000" textLength="5" lengthAdjust="spacingAndGlyphs" stroke="#000" stroke-width="0.25" >0</text>
<rect x="1613" y="810" width="1" height="1" fill="#000"/>
<rect x="1613" y="729" width="1" height="1" fill="#000"/>
<rect x="5" y="812" width="1" height="3" fill="#000"/>
<text x="4" y="824" font-size="10" fill="#000" textLength="50.0" lengthAdjust="spacingAndGlyphs" stroke="#000" stroke-width="0.25" >4 May 2023</text>
<rect x="69" y="812" width="1" height="3" fill="#000"/>
<text x="68" y="824" font-size="10" fill="#000" textLength="52.5" lengthAdjust="spacingAndGlyphs" stroke="#000" stroke-width="0.25" >4 May 20:00</text>
<rect x="133" y="812" width="1" height="3" fill="#000"/>
<text x="132" y="824" font-size="10" fill="#000" textLength="52.5" lengthAdjust="spacingAndGlyphs" stroke="#000" stroke-width="0.25" >5 May 12:00</text>
<rect x="197" y="812" width="1" height="3" fill="#000"/>
<text x="196" y="824" font-size="10" fill="#000" textLength="52.5" lengthAdjust="spacingAndGlyphs" stroke="#000" stroke-width="0.25" >8 May 00:00</text>
<rect x="261" y="812" width="1" height="3" fill="#000"/>
<text x="260" y="824" font-size="10" fill="#000" textLength="52.5" lengthAdjust="spacingAndGlyphs" stroke="#000" stroke-width="0.25" >8 May 16:00</text>
<rect x="325" y="812" width="1" height="3" fill="#000"/>
<text x="324" y="824" font-size="10" fill="#000" textLength="52.5" lengthAdjust="spacingAndGlyphs" stroke="#000" stroke-width="0.25" >9 May 08:00</text>
<rect x="389" y="812" width="1" height="3" fill="#000"/>
<text x="388" y="824" font-size="10" fill="#000" textLength="57.5" lengthAdjust="spacingAndGlyphs" stroke="#000" stroke-width="0.25" >10 May 00:00</text>
<rect x="453" y="812" width="1" height="3" fill="#000"/>
<text x="452" y="824" font-size="10" fill="#000" textLength="57.5" lengthAdjust="spacingAndGlyphs" stroke="#000" stroke-width="0.25" >10 May 16:00</text>
<rect x="517" y="812" width="1" height="3" fill="#000"/>
<text x="516" y="824" font-size="10" fill="#000" textLength="57.5" lengthAdjust="spacingAndGlyphs" stroke="#000" stroke-width="0.25" >11 May 08:00</text>
<rect x="581" y="812" width="1" height="3" fill="#000"/>
<text x="580" y="824" font-size="10" fill="#000" textLength="57.5" lengthAdjust="spacingAndGlyphs" stroke="#000" stroke-width="0.25" >12 May 00:00</text>
<rect x="645" y="812" width="1" height="3" fill="#000"/>
<text x="644" y="824" font-size="10" fill="#000" textLength="57.5" lengthAdjust="spacingAndGlyphs" stroke="#000" stroke-width="0.25" >12 May 16:00</text>
<rect x="709" y="812" width="1" height="3" fill="#000"/>
<text x="708" y="824" font-size="10" fill="#000" textLength="57.5" lengthAdjust="spacingAndGlyphs" stroke="#000" stroke-width="0.25" >15 May 04:00</text>
<rect x="773" y="812" width="1" height="3" fill="#000"/>
<text x="772" y="824" font-size="10" fill="#000" textLength="57.5" lengthAdjust="spacingAndGlyphs" stroke="#000" stroke-width="0.25" >15 May 20:00</text>
<rect x="837" y="812" width="1" height="3" fill="#000"/>
<text x="836" y="824" font-size="10" fill="#000" textLength="57.5" lengthAdjust="spacingAndGlyphs" stroke="#000" stroke-width="0.25" >16 May 12:00</text>
<rect x="901" y="812" width="1" height="3" fill="#000"/>
<text x="900" y="824" font-size="10" fill="#000" textLength="57.5" lengthAdjust="spacingAndGlyphs" stroke="#000" stroke-width="0.25" >17 May 04:00</text>
<rect x="965" y="812" width="1" height="3" fill="#000"/>
<text x="964" y="824" font-size="10" fill="#000" textLength="57.5" lengthAdjust="spacingAndGlyphs" stroke="#000" stroke-width="0.25" >17 May 20:00</text>
<rect x="1029" y="812" width="1" height="3" fill="#000"/>
<text x="1028" y="824" font-size="10" fill="#000" textLength="57.5" lengthAdjust="spacingAndGlyphs" stroke="#000" stroke-width="0.25" >18 May 12:00</text>
<rect x="1093" y="812" width="1" height="3" fill="#000"/>
<text x="1092" y="824" font-size="10" fill="#000" textLength="57.5" lengthAdjust="spacingAndGlyphs" stroke="#000" stroke-width="0.25" >19 May 04:00</text>
<rect x="1157" y="812" width="1" height="3" fill="#000"/>
<text x="1156" y="824" font-size="10" fill="#000" textLength="57.5" lengthAdjust="spacingAndGlyphs" stroke="#000" stroke-width="0.25" >19 May 20:00</text>
<rect x="1221" y="812" width="1" height="3" fill="#000"/>
<text x="1220" y="824" font-size="10" fill="#000" textLength="57.5" lengthAdjust="spacingAndGlyphs" stroke="#000" stroke-width="0.25" >22 May 08:00</text>
</svg></body></html>
